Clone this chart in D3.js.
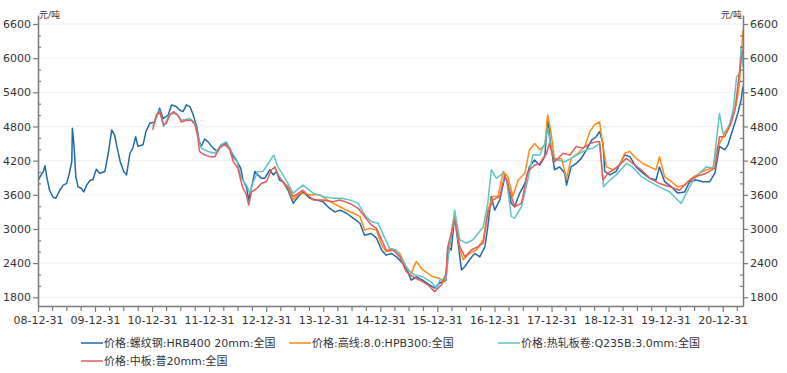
<!DOCTYPE html>
<html>
<head>
<meta charset="utf-8">
<script src="https://cdn.jsdelivr.net/npm/d3@7"></script>
<style>
  body { margin: 0; background: #fff; }
  text { font-family: "DejaVu Sans", "Noto Sans CJK SC", sans-serif; }
</style>
</head>
<body>
<div id="chart"></div>
<script>
// series names and colours
const names = ["价格:螺纹钢:HRB400 20mm:全国", "价格:高线:8.0:HPB300:全国", "价格:热轧板卷:Q235B:3.0mm:全国", "价格:中板:普20mm:全国"];
const colors = ["#1f6aa5", "#ff8a14", "#5ec4c4", "#e85a5a"];

// dates as decimal years, prices in 元/吨
const rebarT = [2009.00,2009.09,2009.12,2009.15,2009.20,2009.26,2009.31,2009.38,2009.44,2009.50,2009.54,2009.59,2009.60,2009.63,2009.66,2009.70,2009.76,2009.80,2009.85,2009.91,2009.96,2010.02,2010.08,2010.17,2010.23,2010.29,2010.34,2010.38,2010.44,2010.50,2010.55,2010.61,2010.66,2010.71,2010.75,2010.84,2010.89,2010.96,2011.03,2011.10,2011.13,2011.19,2011.28,2011.34,2011.42,2011.48,2011.54,2011.60,2011.66,2011.72,2011.78,2011.82,2011.86,2011.92,2011.98,2012.07,2012.15,2012.21,2012.30,2012.36,2012.42,2012.49,2012.55,2012.59,2012.65,2012.69,2012.74,2012.80,2012.85,2012.91,2012.97,2013.06,2013.12,2013.18,2013.23,2013.29,2013.38,2013.47,2013.56,2013.64,2013.76,2013.88,2013.99,2014.11,2014.20,2014.29,2014.40,2014.52,2014.64,2014.72,2014.84,2014.93,2015.02,2015.10,2015.19,2015.28,2015.39,2015.48,2015.54,2015.63,2015.74,2015.86,2015.95,2016.04,2016.15,2016.18,2016.24,2016.30,2016.36,2016.42,2016.48,2016.56,2016.65,2016.74,2016.83,2016.88,2016.94,2017.00,2017.09,2017.18,2017.23,2017.29,2017.35,2017.44,2017.53,2017.61,2017.70,2017.79,2017.88,2017.93,2017.98,2018.05,2018.14,2018.23,2018.26,2018.34,2018.43,2018.52,2018.61,2018.70,2018.78,2018.84,2018.90,2018.93,2019.02,2019.13,2019.28,2019.37,2019.48,2019.60,2019.72,2019.83,2019.89,2019.98,2020.10,2020.21,2020.33,2020.42,2020.53,2020.65,2020.77,2020.86,2020.94,2021.03,2021.09,2021.15,2021.21,2021.26,2021.32,2021.35];
const rebarV = [3860,4010,4110,3920,3680,3560,3540,3680,3770,3800,3950,4180,4770,4450,3920,3740,3710,3650,3770,3850,3870,4050,3980,4010,4330,4740,4650,4450,4180,4010,3950,4330,4420,4620,4450,4480,4710,4860,4870,5030,5120,4940,5000,5180,5150,5090,5060,5180,5150,5000,4800,4560,4450,4580,4530,4420,4360,4480,4500,4420,4270,4180,4070,3860,3740,3510,3740,4010,3950,3890,3890,4040,3950,4010,3860,3830,3680,3450,3570,3650,3540,3510,3480,3360,3300,3330,3280,3190,3100,2890,2920,2840,2630,2540,2570,2510,2400,2250,2100,2160,2100,2020,1960,2050,2100,2690,2630,3220,2750,2280,2340,2460,2570,2510,2690,3040,3570,3330,3510,3920,3800,3450,3390,3630,3800,4090,4210,4120,4270,4970,4500,4040,4090,3980,3770,4090,4150,4240,4390,4560,4620,4710,4500,4010,3950,4010,4300,4270,4090,3980,3890,3860,4090,3830,3740,3630,3650,3830,3860,3830,3830,3980,4450,4390,4480,4680,4860,5030,5270,5500];

const wireT = [2013.29,2013.38,2013.47,2013.58,2013.76,2013.94,2014.11,2014.29,2014.40,2014.52,2014.64,2014.72,2014.81,2014.93,2015.02,2015.10,2015.22,2015.34,2015.45,2015.54,2015.63,2015.74,2015.92,2016.04,2016.13,2016.18,2016.30,2016.39,2016.45,2016.56,2016.68,2016.80,2016.88,2016.97,2017.06,2017.15,2017.23,2017.32,2017.41,2017.53,2017.61,2017.70,2017.79,2017.88,2017.93,2017.99,2018.05,2018.17,2018.26,2018.34,2018.46,2018.58,2018.67,2018.75,2018.84,2018.90,2018.96,2019.07,2019.19,2019.28,2019.37,2019.48,2019.60,2019.72,2019.83,2019.89,2019.98,2020.10,2020.21,2020.33,2020.45,2020.59,2020.71,2020.83,2020.88,2020.97,2021.06,2021.15,2021.24,2021.29,2021.35];
const wireV = [3810,3720,3510,3630,3600,3600,3480,3390,3330,3280,3220,2980,3010,2980,2720,2600,2630,2570,2340,2220,2430,2280,2160,2130,2070,2510,3220,2630,2460,2570,2630,2810,3330,3570,3570,4010,3920,3570,3860,3980,4390,4500,4390,4480,5000,4680,4210,4240,3890,4240,4330,4450,4710,4830,4880,4450,4090,4040,4120,4330,4360,4240,4150,4090,4040,4270,3920,3830,3740,3770,3890,3980,4040,4070,4390,4560,4740,4880,5210,5560,6490];

const coilT = [2011.01,2011.13,2011.20,2011.31,2011.42,2011.51,2011.66,2011.75,2011.82,2011.86,2011.98,2012.10,2012.21,2012.30,2012.39,2012.48,2012.56,2012.65,2012.71,2012.77,2012.85,2012.94,2013.03,2013.13,2013.20,2013.29,2013.38,2013.47,2013.64,2013.82,2013.99,2014.17,2014.32,2014.46,2014.61,2014.72,2014.84,2014.96,2015.04,2015.16,2015.28,2015.37,2015.48,2015.60,2015.74,2015.89,2015.98,2016.04,2016.15,2016.21,2016.30,2016.39,2016.51,2016.62,2016.71,2016.80,2016.88,2016.94,2017.03,2017.15,2017.21,2017.29,2017.35,2017.47,2017.58,2017.67,2017.79,2017.88,2017.93,2018.02,2018.11,2018.23,2018.34,2018.49,2018.61,2018.72,2018.84,2018.91,2018.99,2019.13,2019.31,2019.42,2019.57,2019.72,2019.89,2020.07,2020.21,2020.27,2020.36,2020.48,2020.59,2020.71,2020.83,2020.94,2021.00,2021.09,2021.18,2021.24,2021.29,2021.32,2021.35];
const coilV = [4800,5080,4800,5020,5030,4910,4940,4860,4560,4420,4360,4330,4480,4530,4360,4210,3890,3770,3630,3830,4010,4010,4150,4300,4090,3950,3800,3630,3770,3630,3570,3540,3540,3510,3450,3250,3130,3100,2920,2660,2630,2490,2280,2190,2160,2070,1960,2100,2130,2690,3330,2810,2750,2810,2920,3040,3450,4040,3890,3980,3860,3220,3190,3390,3860,4300,4300,4500,4770,4270,4210,4180,4240,4330,4390,4420,4500,3740,3830,3950,4150,4090,3920,3830,3740,3650,3510,3450,3630,3860,3980,4090,4070,5030,4680,4740,5090,5670,5730,6200,5850];

const plateT = [2011.01,2011.07,2011.13,2011.20,2011.25,2011.31,2011.37,2011.45,2011.51,2011.60,2011.69,2011.75,2011.80,2011.83,2011.92,2012.01,2012.10,2012.18,2012.27,2012.36,2012.42,2012.50,2012.58,2012.65,2012.69,2012.74,2012.83,2012.91,2013.00,2013.09,2013.15,2013.20,2013.29,2013.38,2013.47,2013.64,2013.82,2013.99,2014.17,2014.29,2014.46,2014.61,2014.72,2014.84,2014.93,2015.02,2015.10,2015.22,2015.34,2015.45,2015.57,2015.69,2015.83,2015.95,2016.07,2016.15,2016.18,2016.30,2016.39,2016.48,2016.59,2016.71,2016.80,2016.88,2016.97,2017.09,2017.18,2017.26,2017.35,2017.47,2017.58,2017.70,2017.79,2017.91,2017.96,2018.05,2018.20,2018.32,2018.43,2018.55,2018.67,2018.78,2018.84,2018.90,2018.99,2019.13,2019.31,2019.42,2019.57,2019.72,2019.89,2020.07,2020.24,2020.39,2020.53,2020.71,2020.86,2020.94,2021.03,2021.12,2021.21,2021.26,2021.32,2021.35];
const plateV = [4740,5000,5060,4830,4860,5000,5060,5000,4880,4910,4910,4830,4620,4360,4300,4270,4270,4420,4490,4390,4180,4070,3740,3600,3420,3650,3710,3800,3830,4040,4090,3950,3830,3740,3570,3680,3510,3510,3480,3510,3450,3360,3220,3070,3010,2810,2630,2630,2510,2250,2160,2100,2020,1900,2020,2220,2690,3160,2690,2510,2630,2690,2750,3280,3510,3570,3950,3680,3390,3450,4010,4120,4150,4330,4500,4180,4330,4300,4450,4420,4500,4530,4530,3860,3980,4070,4240,4150,4040,3890,3800,3740,3680,3830,3920,3980,4070,4620,4620,4800,5090,5500,6000,6140];

const yTicks = [1800, 2400, 3000, 3600, 4200, 4800, 5400, 6000, 6600];
const tickYears = d3.range(2008, 2021);

// decimal year -> Date
const toDate = t => {
  const yr = Math.floor(t);
  const a = new Date(yr, 0, 1), b = new Date(yr + 1, 0, 1);
  return new Date(+a + (t - yr) * (b - a));
};

const series = [[rebarT, rebarV], [wireT, wireV], [coilT, coilV], [plateT, plateV]]
  .map(([ts, vs], i) => ({name: names[i], color: colors[i],
    values: ts.map((t, j) => ({date: toDate(t), value: vs[j]}))}));

const W = 787, H = 373;
const margin = {left: 38, right: 743, top: 15, bottom: 306};

const svg = d3.select("#chart").append("svg")
  .attr("width", W).attr("height", H);

const x = d3.scaleTime()
  .domain([new Date(2008, 11, 31), toDate(2021.352)])
  .range([margin.left, margin.right]);

const y = d3.scaleLinear()
  .domain([1647, 6758])
  .range([margin.bottom, margin.top]);

// minor ticks
const yMinor = d3.range(1800, 6800, 200).filter(v => v % 600 !== 0 && v <= 6758);
const xMinor = [];
tickYears.concat([2021]).forEach(yr => {
  [[2, 31], [5, 30], [8, 30]].forEach(([m, d]) => {
    const dt = new Date(yr, m, d);
    if (dt >= x.domain()[0] && dt <= x.domain()[1]) xMinor.push(dt);
  });
});

// grid lines
svg.append("g")
  .selectAll("line")
  .data(yTicks)
  .join("line")
    .attr("x1", margin.left).attr("x2", margin.right)
    .attr("y1", d => y(d)).attr("y2", d => y(d))
    .attr("stroke", "#efefef")
    .attr("stroke-width", 1);

// lines
const line = d3.line()
  .x(d => x(d.date))
  .y(d => y(d.value));

svg.append("g")
  .selectAll("path")
  .data(series)
  .join("path")
    .attr("fill", "none")
    .attr("stroke", d => d.color)
    .attr("stroke-width", 1.5)
    .attr("stroke-linejoin", "round")
    .attr("d", d => line(d.values));

const axisColor = "#7a7a7a";
const styleAxis = g => {
  g.select(".domain").attr("stroke", axisColor).attr("stroke-width", 1.5);
  g.selectAll(".tick line").attr("stroke", axisColor).attr("stroke-width", 1.2);
  g.selectAll(".tick text").attr("fill", "#333").style("font-size", "11px");
};

// left axis
svg.append("g")
  .attr("transform", `translate(${margin.left},0)`)
  .call(d3.axisLeft(y).tickValues(yTicks).tickFormat(d3.format("d"))
    .tickSize(5).tickSizeOuter(0).tickPadding(2))
  .call(styleAxis);
svg.append("g")
  .attr("transform", `translate(${margin.left},0)`)
  .call(d3.axisLeft(y).tickValues(yMinor).tickFormat("").tickSize(-3).tickSizeOuter(0))
  .call(g => g.select(".domain").remove())
  .call(styleAxis);

// right axis
svg.append("g")
  .attr("transform", `translate(${margin.right},0)`)
  .call(d3.axisRight(y).tickValues(yTicks).tickFormat(d3.format("d"))
    .tickSize(5).tickSizeOuter(0).tickPadding(2))
  .call(styleAxis);
svg.append("g")
  .attr("transform", `translate(${margin.right},0)`)
  .call(d3.axisRight(y).tickValues(yMinor).tickFormat("").tickSize(-3).tickSizeOuter(0))
  .call(g => g.select(".domain").remove())
  .call(styleAxis);

// bottom axis
const fmt = d3.timeFormat("%y-%m-%d");
svg.append("g")
  .attr("transform", `translate(0,${margin.bottom})`)
  .call(d3.axisBottom(x).tickValues(tickYears.map(yr => new Date(yr, 11, 31)))
    .tickFormat(fmt).tickSize(6).tickSizeOuter(0).tickPadding(4))
  .call(styleAxis);
svg.append("g")
  .attr("transform", `translate(0,${margin.bottom})`)
  .call(d3.axisBottom(x).tickValues(xMinor).tickFormat("").tickSize(5).tickSizeOuter(0))
  .call(g => g.select(".domain").remove())
  .call(styleAxis);

// unit labels
svg.append("text")
  .attr("x", margin.left + 1).attr("y", margin.top + 3)
  .attr("fill", "#333").style("font-size", "9px")
  .text("元/吨");
svg.append("text")
  .attr("x", margin.right - 1).attr("y", margin.top + 3)
  .attr("text-anchor", "end")
  .attr("fill", "#333").style("font-size", "9px")
  .text("元/吨");

// legend
const legendPos = [[81, 343], [289, 343], [498, 343], [81, 361]];
const legend = svg.append("g")
  .selectAll("g")
  .data(series)
  .join("g")
    .attr("transform", (d, i) => `translate(${legendPos[i][0]},${legendPos[i][1]})`);
legend.append("line")
  .attr("x1", 0).attr("x2", 22)
  .attr("stroke", d => d.color)
  .attr("stroke-width", 1.5);
legend.append("text")
  .attr("x", 23).attr("dy", "0.35em")
  .attr("fill", "#333")
  .style("font-size", "11px")
  .text(d => d.name);
</script>
</body>
</html>
